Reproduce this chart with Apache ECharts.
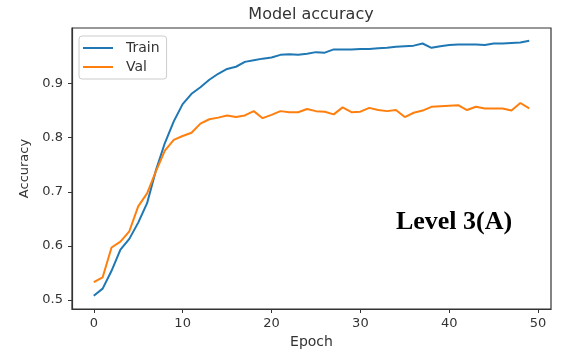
<!DOCTYPE html>
<html>
<head>
<meta charset="utf-8">
<script src="https://cdn.jsdelivr.net/npm/echarts@6/dist/echarts.min.js"></script>
<style>
  html, body { margin: 0; padding: 0; background: #fff; }
  #chart { width: 584px; height: 354px; }
</style>
</head>
<body>
<div id="chart"></div>
<script>
// 训练曲线：每个 epoch 的准确率
const trainAcc = [
  0.508, 0.521, 0.554, 0.593, 0.613, 0.643, 0.679, 0.740, 0.790, 0.830,
  0.862, 0.881, 0.893, 0.907, 0.918, 0.927, 0.931, 0.940, 0.943, 0.946,
  0.948, 0.953, 0.954, 0.953, 0.955, 0.958, 0.957, 0.963, 0.963, 0.963,
  0.964, 0.964, 0.965, 0.966, 0.968, 0.969, 0.970, 0.974, 0.966, 0.969,
  0.971, 0.972, 0.972, 0.972, 0.971, 0.974, 0.974, 0.975, 0.976, 0.979
];
const valAcc = [
  0.533, 0.542, 0.597, 0.608, 0.627, 0.673, 0.697, 0.738, 0.776, 0.796,
  0.803, 0.809, 0.826, 0.834, 0.837, 0.841, 0.838, 0.841, 0.849, 0.836,
  0.842, 0.849, 0.847, 0.847, 0.853, 0.849, 0.848, 0.843, 0.856, 0.847,
  0.848, 0.855, 0.851, 0.849, 0.851, 0.838, 0.846, 0.850, 0.857, 0.858,
  0.859, 0.860, 0.851, 0.857, 0.854, 0.854, 0.854, 0.850, 0.864, 0.854
];
const xTicks = [0, 10, 20, 30, 40, 50];
const yTicks = [0.5, 0.6, 0.7, 0.8, 0.9];

const FONT = 'DejaVu Sans';
const INK = '#333';

// [epoch, value] 形式
function toPairs(arr) {
  return arr.map(function (v, i) { return [i, v]; });
}

const chart = echarts.init(document.getElementById('chart'), null, { renderer: 'canvas' });

chart.setOption({
  animation: false,
  backgroundColor: '#fff',
  grid: {
    left: 72, right: 33, top: 28, bottom: 40,
    show: true, borderColor: INK, borderWidth: 1.2, backgroundColor: 'transparent'
  },
  graphic: [
    {
      type: 'text', x: 311, y: 7,
      style: { text: 'Model accuracy', font: '16px "DejaVu Sans"', fill: INK, textAlign: 'center' }
    },
    {
      type: 'text', x: 454, y: 222,
      style: {
        text: 'Level 3(A)', font: 'bold 26px "Liberation Serif"', fill: '#000',
        textAlign: 'center', textVerticalAlign: 'middle'
      }
    }
  ],
  legend: {
    left: 79, top: 36,
    orient: 'vertical',
    icon: 'rect',
    itemWidth: 30, itemHeight: 2,
    itemGap: 5,
    padding: [5, 7, 5, 4],
    borderColor: '#ccc', borderWidth: 1, borderRadius: 3,
    textStyle: { fontFamily: FONT, fontSize: 14, color: INK, padding: [0, 0, 0, 8] },
    data: ['Train', 'Val']
  },
  xAxis: {
    type: 'value',
    min: -2.45, max: 51.45,
    name: 'Epoch', nameLocation: 'middle', nameGap: 26,
    nameTextStyle: { fontFamily: FONT, fontSize: 14, color: INK },
    splitLine: { show: false },
    axisLine: { show: true, onZero: false, lineStyle: { color: INK, width: 1.2 } },
    axisTick: { show: true, length: 4, customValues: xTicks, lineStyle: { color: INK } },
    axisLabel: { customValues: xTicks, fontFamily: FONT, fontSize: 13, color: INK, margin: 8 }
  },
  yAxis: {
    type: 'value',
    min: 0.4834, max: 1.0026,
    name: 'Accuracy', nameLocation: 'middle', nameGap: 40,
    nameTextStyle: { fontFamily: FONT, fontSize: 13, color: INK },
    splitLine: { show: false },
    axisLine: { show: true, onZero: false, lineStyle: { color: INK, width: 1.2 } },
    axisTick: { show: true, length: 4, customValues: yTicks, lineStyle: { color: INK } },
    axisLabel: {
      customValues: yTicks, fontFamily: FONT, fontSize: 13, color: INK, margin: 9,
      formatter: function (v) { return v.toFixed(1); }
    }
  },
  series: [
    {
      name: 'Train', type: 'line', data: toPairs(trainAcc),
      showSymbol: false, symbol: 'none',
      itemStyle: { color: '#1f77b4' },
      lineStyle: { width: 2, color: '#1f77b4' }
    },
    {
      name: 'Val', type: 'line', data: toPairs(valAcc),
      showSymbol: false, symbol: 'none',
      itemStyle: { color: '#ff7f0e' },
      lineStyle: { width: 2, color: '#ff7f0e' }
    }
  ]
});
</script>
</body>
</html>
